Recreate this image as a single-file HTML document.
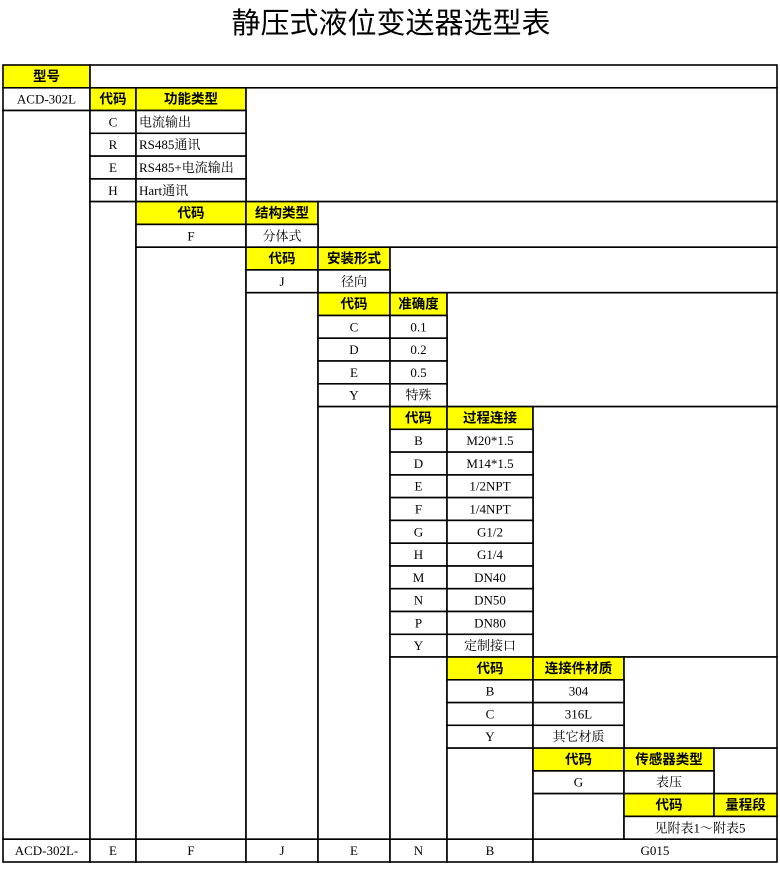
<!DOCTYPE html>
<html><head><meta charset="utf-8"><style>
html,body{margin:0;padding:0;background:#fff;}
svg{display:block}
.h{font-family:"Liberation Sans","Noto Sans CJK SC",sans-serif;font-weight:bold;font-size:13.5px;text-anchor:middle}
.v{font-family:"Liberation Serif","Noto Serif CJK SC",serif;font-size:13px;text-anchor:middle}
.l{font-family:"Liberation Serif","Noto Serif CJK SC",serif;font-size:13px}
rect{stroke:#000;stroke-width:1.6}
.y{fill:#ffff00}.w{fill:#fff}
</style></head><body>
<svg width="780" height="873" xmlns="http://www.w3.org/2000/svg">
<text x="391" y="33" font-family="Liberation Sans,'Noto Sans CJK SC',sans-serif" font-size="29" text-anchor="middle">静压式液位变送器选型表</text>
<!-- row0 -->
<rect class="y" x="3" y="65" width="87" height="22.8"/><text class="h" x="46.5" y="81">型号</text>
<rect class="w" x="90" y="65" width="687" height="22.8"/>
<!-- row1 -->
<rect class="w" x="3" y="87.8" width="87" height="22.7"/><text class="v" x="46.5" y="103.5">ACD-302L</text>
<rect class="y" x="90" y="87.8" width="46" height="22.7"/><text class="h" x="113" y="103.5">代码</text>
<rect class="y" x="136" y="87.8" width="110" height="22.7"/><text class="h" x="191" y="103.5">功能类型</text>
<rect class="w" x="246" y="87.8" width="531" height="113.8"/>
<rect class="w" x="3" y="110.5" width="87" height="728.7"/>
<rect class="w" x="90" y="110.5" width="46" height="22.8"/><text class="v" x="113" y="126.5">C</text>
<rect class="w" x="136" y="110.5" width="110" height="22.8"/><text class="l" x="139" y="126.5">电流输出</text>
<rect class="w" x="90" y="133.3" width="46" height="22.8"/><text class="v" x="113" y="149.2">R</text>
<rect class="w" x="136" y="133.3" width="110" height="22.8"/><text class="l" x="139" y="149.2">RS485通讯</text>
<rect class="w" x="90" y="156.1" width="46" height="22.8"/><text class="v" x="113" y="172">E</text>
<rect class="w" x="136" y="156.1" width="110" height="22.8"/><text class="l" x="139" y="172">RS485+电流输出</text>
<rect class="w" x="90" y="178.9" width="46" height="22.7"/><text class="v" x="113" y="194.8">H</text>
<rect class="w" x="136" y="178.9" width="110" height="22.7"/><text class="l" x="139" y="194.8">Hart通讯</text>
<!-- row6 -->
<rect class="w" x="90" y="201.6" width="46" height="637.6"/>
<rect class="y" x="136" y="201.6" width="110" height="22.8"/><text class="h" x="191" y="217.5">代码</text>
<rect class="y" x="246" y="201.6" width="72" height="22.8"/><text class="h" x="282" y="217.5">结构类型</text>
<rect class="w" x="318" y="201.6" width="459" height="45.6"/>
<rect class="w" x="136" y="224.4" width="110" height="22.8"/><text class="v" x="191" y="240.3">F</text>
<rect class="w" x="246" y="224.4" width="72" height="22.8"/><text class="v" x="282" y="240.3">分体式</text>
<!-- row8 -->
<rect class="w" x="136" y="247.2" width="110" height="592"/>
<rect class="y" x="246" y="247.2" width="72" height="22.7"/><text class="h" x="282" y="263">代码</text>
<rect class="y" x="318" y="247.2" width="72" height="22.7"/><text class="h" x="354" y="263">安装形式</text>
<rect class="w" x="390" y="247.2" width="387" height="45.5"/>
<rect class="w" x="246" y="269.9" width="72" height="22.8"/><text class="v" x="282" y="285.8">J</text>
<rect class="w" x="318" y="269.9" width="72" height="22.8"/><text class="v" x="354" y="285.8">径向</text>
<!-- row10 -->
<rect class="w" x="246" y="292.7" width="72" height="546.5"/>
<rect class="y" x="318" y="292.7" width="72" height="22.8"/><text class="h" x="354" y="308.6">代码</text>
<rect class="y" x="390" y="292.7" width="57" height="22.8"/><text class="h" x="418.5" y="308.6">准确度</text>
<rect class="w" x="447" y="292.7" width="330" height="113.9"/>
<rect class="w" x="318" y="315.5" width="72" height="22.7"/><text class="v" x="354" y="331.3">C</text>
<rect class="w" x="390" y="315.5" width="57" height="22.7"/><text class="v" x="418.5" y="331.3">0.1</text>
<rect class="w" x="318" y="338.2" width="72" height="22.8"/><text class="v" x="354" y="354.1">D</text>
<rect class="w" x="390" y="338.2" width="57" height="22.8"/><text class="v" x="418.5" y="354.1">0.2</text>
<rect class="w" x="318" y="361" width="72" height="22.8"/><text class="v" x="354" y="376.9">E</text>
<rect class="w" x="390" y="361" width="57" height="22.8"/><text class="v" x="418.5" y="376.9">0.5</text>
<rect class="w" x="318" y="383.8" width="72" height="22.8"/><text class="v" x="354" y="399.7">Y</text>
<rect class="w" x="390" y="383.8" width="57" height="22.8"/><text class="v" x="418.5" y="399.7">特殊</text>
<!-- row15 -->
<rect class="w" x="318" y="406.6" width="72" height="432.6"/>
<rect class="y" x="390" y="406.6" width="57" height="22.7"/><text class="h" x="418.5" y="422.4">代码</text>
<rect class="y" x="447" y="406.6" width="86" height="22.7"/><text class="h" x="490" y="422.4">过程连接</text>
<rect class="w" x="533" y="406.6" width="244" height="250.4"/>
<rect class="w" x="390" y="429.3" width="57" height="22.8"/><text class="v" x="418.5" y="445.2">B</text>
<rect class="w" x="447" y="429.3" width="86" height="22.8"/><text class="v" x="490" y="445.2">M20*1.5</text>
<rect class="w" x="390" y="452.1" width="57" height="22.8"/><text class="v" x="418.5" y="468">D</text>
<rect class="w" x="447" y="452.1" width="86" height="22.8"/><text class="v" x="490" y="468">M14*1.5</text>
<rect class="w" x="390" y="474.9" width="57" height="22.7"/><text class="v" x="418.5" y="490.7">E</text>
<rect class="w" x="447" y="474.9" width="86" height="22.7"/><text class="v" x="490" y="490.7">1/2NPT</text>
<rect class="w" x="390" y="497.6" width="57" height="22.8"/><text class="v" x="418.5" y="513.5">F</text>
<rect class="w" x="447" y="497.6" width="86" height="22.8"/><text class="v" x="490" y="513.5">1/4NPT</text>
<rect class="w" x="390" y="520.4" width="57" height="22.8"/><text class="v" x="418.5" y="536.3">G</text>
<rect class="w" x="447" y="520.4" width="86" height="22.8"/><text class="v" x="490" y="536.3">G1/2</text>
<rect class="w" x="390" y="543.2" width="57" height="22.8"/><text class="v" x="418.5" y="559.1">H</text>
<rect class="w" x="447" y="543.2" width="86" height="22.8"/><text class="v" x="490" y="559.1">G1/4</text>
<rect class="w" x="390" y="566" width="57" height="22.7"/><text class="v" x="418.5" y="581.8">M</text>
<rect class="w" x="447" y="566" width="86" height="22.7"/><text class="v" x="490" y="581.8">DN40</text>
<rect class="w" x="390" y="588.7" width="57" height="22.8"/><text class="v" x="418.5" y="604.6">N</text>
<rect class="w" x="447" y="588.7" width="86" height="22.8"/><text class="v" x="490" y="604.6">DN50</text>
<rect class="w" x="390" y="611.5" width="57" height="22.8"/><text class="v" x="418.5" y="627.4">P</text>
<rect class="w" x="447" y="611.5" width="86" height="22.8"/><text class="v" x="490" y="627.4">DN80</text>
<rect class="w" x="390" y="634.3" width="57" height="22.7"/><text class="v" x="418.5" y="650.1">Y</text>
<rect class="w" x="447" y="634.3" width="86" height="22.7"/><text class="v" x="490" y="650.1">定制接口</text>
<!-- row26 -->
<rect class="w" x="390" y="657" width="57" height="182.2"/>
<rect class="y" x="447" y="657" width="86" height="22.8"/><text class="h" x="490" y="672.9">代码</text>
<rect class="y" x="533" y="657" width="91" height="22.8"/><text class="h" x="578.5" y="672.9">连接件材质</text>
<rect class="w" x="624" y="657" width="153" height="91.1"/>
<rect class="w" x="447" y="679.8" width="86" height="22.8"/><text class="v" x="490" y="695.7">B</text>
<rect class="w" x="533" y="679.8" width="91" height="22.8"/><text class="v" x="578.5" y="695.7">304</text>
<rect class="w" x="447" y="702.6" width="86" height="22.7"/><text class="v" x="490" y="718.4">C</text>
<rect class="w" x="533" y="702.6" width="91" height="22.7"/><text class="v" x="578.5" y="718.4">316L</text>
<rect class="w" x="447" y="725.3" width="86" height="22.8"/><text class="v" x="490" y="741.2">Y</text>
<rect class="w" x="533" y="725.3" width="91" height="22.8"/><text class="v" x="578.5" y="741.2">其它材质</text>
<!-- row30 -->
<rect class="w" x="447" y="748.1" width="86" height="91.1"/>
<rect class="y" x="533" y="748.1" width="91" height="22.8"/><text class="h" x="578.5" y="764">代码</text>
<rect class="y" x="624" y="748.1" width="90" height="22.8"/><text class="h" x="669" y="764">传感器类型</text>
<rect class="w" x="714" y="748.1" width="63" height="45.5"/>
<rect class="w" x="533" y="770.9" width="91" height="22.7"/><text class="v" x="578.5" y="786.7">G</text>
<rect class="w" x="624" y="770.9" width="90" height="22.7"/><text class="v" x="669" y="786.7">表压</text>
<!-- row32 -->
<rect class="w" x="533" y="793.6" width="91" height="45.6"/>
<rect class="y" x="624" y="793.6" width="90" height="22.8"/><text class="h" x="669" y="809.5">代码</text>
<rect class="y" x="714" y="793.6" width="63" height="22.8"/><text class="h" x="745.5" y="809.5">量程段</text>
<rect class="w" x="624" y="816.4" width="153" height="22.8"/><text class="v" x="700" y="832.3">见附表1～附表5</text>
<!-- row34 -->
<rect class="w" x="3" y="839.2" width="87" height="22.8"/><text class="v" x="46.5" y="855">ACD-302L-</text>
<rect class="w" x="90" y="839.2" width="46" height="22.8"/><text class="v" x="113" y="855">E</text>
<rect class="w" x="136" y="839.2" width="110" height="22.8"/><text class="v" x="191" y="855">F</text>
<rect class="w" x="246" y="839.2" width="72" height="22.8"/><text class="v" x="282" y="855">J</text>
<rect class="w" x="318" y="839.2" width="72" height="22.8"/><text class="v" x="354" y="855">E</text>
<rect class="w" x="390" y="839.2" width="57" height="22.8"/><text class="v" x="418.5" y="855">N</text>
<rect class="w" x="447" y="839.2" width="86" height="22.8"/><text class="v" x="490" y="855">B</text>
<rect class="w" x="533" y="839.2" width="244" height="22.8"/><text class="v" x="655" y="855">G015</text>
</svg>
</body></html>
